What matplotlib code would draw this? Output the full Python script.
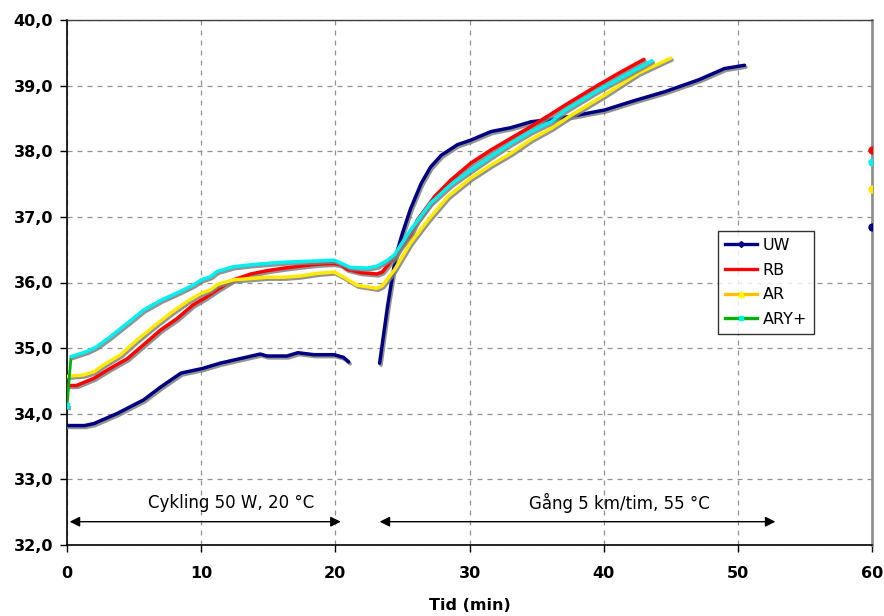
import numpy as np
import matplotlib
matplotlib.use("Agg")
import matplotlib.pyplot as plt
import matplotlib.patheffects as pe
from matplotlib.lines import Line2D
from matplotlib.ticker import FuncFormatter, MultipleLocator

plt.rcParams['font.family'] = ['DejaVu Sans']

# ---------------- data ----------------
t_uw1 = [0, 1.3, 2.0, 3.7, 5.7, 7.0, 8.5, 10.1, 11.4, 12.9, 14.4, 14.9, 16.4, 17.2, 18.4, 19.9, 20.6, 21.0]
v_uw1 = [33.82, 33.82, 33.85, 34.00, 34.21, 34.41, 34.62, 34.69, 34.77, 34.84, 34.91, 34.88, 34.88, 34.93, 34.90, 34.90, 34.86, 34.79]

t_uw2 = [23.3, 23.9, 24.5, 25.0, 25.6, 26.4, 27.1, 27.9, 29.1, 30.1, 31.6, 33.1, 34.6, 35.9, 37.8, 40.1, 42.1, 44.6, 47.1, 49.0, 50.5]
v_uw2 = [34.77, 35.65, 36.40, 36.75, 37.12, 37.51, 37.76, 37.94, 38.10, 38.17, 38.30, 38.36, 38.45, 38.48, 38.54, 38.63, 38.76, 38.91, 39.09, 39.26, 39.31]

t_rb = [0, 0.7, 2.0, 3.2, 4.5, 5.7, 7.0, 8.2, 9.4, 10.4, 11.2, 12.4, 13.7, 14.9, 16.2, 17.4, 18.7, 19.9,
        20.4, 20.9, 21.9, 23.1, 23.5, 24.4, 24.9, 25.6, 26.1, 27.4, 28.6, 30.1, 31.6, 33.1, 34.6, 36.1,
        37.1, 39.6, 41.3, 43.0]
v_rb = [34.43, 34.43, 34.54, 34.69, 34.84, 35.05, 35.28, 35.45, 35.66, 35.78, 35.89, 36.04, 36.13, 36.18,
        36.22, 36.25, 36.28, 36.29, 36.27, 36.20, 36.15, 36.13, 36.16, 36.39, 36.55, 36.72, 36.95, 37.31,
        37.56, 37.82, 38.02, 38.20, 38.38, 38.57, 38.70, 39.01, 39.21, 39.40]

t_ar = [0, 1.2, 2.0, 2.7, 4.0, 5.2, 6.45, 7.7, 8.95, 9.94, 10.7, 11.2, 12.4, 13.7, 14.9, 16.2, 17.4, 18.7,
        19.9, 20.65, 21.6, 23.1, 23.5, 24.4, 25.6, 26.9, 28.4, 30.1, 31.6, 33.1, 34.6, 36.1, 37.6, 40.1,
        42.6, 45.0]
v_ar = [34.57, 34.59, 34.64, 34.74, 34.90, 35.12, 35.33, 35.53, 35.71, 35.83, 35.89, 35.97, 36.04, 36.06,
        36.08, 36.08, 36.10, 36.14, 36.16, 36.08, 35.96, 35.91, 35.95, 36.19, 36.60, 36.95, 37.31, 37.59,
        37.79, 37.97, 38.18, 38.35, 38.55, 38.86, 39.19, 39.42]

t_ary = [0, 0.3, 1.5, 2.2, 3.2, 4.5, 5.7, 7.0, 8.2, 9.4, 10.0, 10.7, 11.2, 12.4, 13.7, 14.9, 16.2, 17.4,
         18.7, 19.9, 20.6, 21.1, 22.4, 23.1, 23.9, 24.4, 25.6, 27.1, 28.6, 30.1, 31.6, 33.1, 34.6, 36.1,
         37.1, 39.6, 42.1, 43.6]
v_ary = [34.12, 34.87, 34.95, 35.02, 35.17, 35.38, 35.58, 35.73, 35.84, 35.96, 36.04, 36.09, 36.17, 36.24,
         36.27, 36.29, 36.31, 36.32, 36.33, 36.34, 36.28, 36.23, 36.22, 36.25, 36.34, 36.42, 36.80, 37.21,
         37.49, 37.71, 37.92, 38.12, 38.30, 38.45, 38.62, 38.93, 39.21, 39.38]

# isolated points at t = 60
t_end = 60
end_uw, end_rb, end_ar, end_ary = 36.85, 38.02, 37.42, 37.83

labels = ['UW', 'RB', 'AR', 'ARY+']
phase_labels = ['Cykling 50 W, 20 °C', 'Gång 5 km/tim, 55 °C']
phase_spans = [(0.2, 20.4), (23.3, 52.8)]
phase_text_x = [12.2, 41.2]

# ---------------- figure ----------------
fig = plt.figure(figsize=(8.84, 6.16), dpi=100)
ax = fig.add_axes([67/884, 71/616, 805/884, 525/616])

shadow = [pe.SimpleLineShadow(offset=(1.0, -1.4), shadow_color='#808080', alpha=0.85), pe.Normal()]
lw = 2.5

c_uw = '#000080'
c_rb = '#FF0000'
c_ar = '#FFEA00'
c_ary = '#00F0F0'
c_ary_line = '#00B000'

ax.plot(t_uw1, v_uw1, color=c_uw, lw=lw, solid_capstyle='round', path_effects=shadow, zorder=3)
ax.plot(t_uw2, v_uw2, color=c_uw, lw=lw, solid_capstyle='round', path_effects=shadow, zorder=3)
ax.plot(t_rb, v_rb, color=c_rb, lw=lw, solid_capstyle='round', path_effects=shadow, zorder=3)
ax.plot(t_ar, v_ar, color=c_ar, lw=lw, solid_capstyle='round', path_effects=shadow, zorder=3)
ax.plot(t_ary[:2], v_ary[:2], color=c_ary_line, lw=2.0, zorder=3.5)
ax.plot(t_ary[1:], v_ary[1:], color=c_ary, lw=lw, solid_capstyle='round', path_effects=shadow, zorder=4)
ax.plot(t_ary[:1], v_ary[:1], 's', color=c_ary, ms=3.5, zorder=4,
        path_effects=[pe.SimplePatchShadow(offset=(1, -1.5), shadow_rgbFace='#808080', alpha=0.9), pe.Normal()])

for val, col in [(end_uw, c_uw), (end_rb, c_rb), (end_ar, c_ar), (end_ary, c_ary)]:
    ax.plot([t_end], [val], 'o', color=col, ms=5, zorder=5, clip_on=True)

# phase annotations
for lab, (a, b), tx in zip(phase_labels, phase_spans, phase_text_x):
    ax.annotate('', xy=(b, 32.355), xytext=(a, 32.355),
                arrowprops=dict(arrowstyle='<|-|>', color='black', lw=1.0,
                                mutation_scale=15, shrinkA=0, shrinkB=0))
    ax.text(tx, 32.635, lab, ha='center', va='center', fontsize=12)

# axes formatting
ax.set_xlim(0, 60)
ax.set_ylim(32, 40)
ax.xaxis.set_major_locator(MultipleLocator(10))
ax.yaxis.set_major_locator(MultipleLocator(1))
ax.yaxis.set_major_formatter(FuncFormatter(lambda v, p: f"{v:.1f}".replace('.', ',')))
ax.tick_params(axis='both', direction='out', length=5, width=1, labelsize=11.5)
for lbl in ax.get_xticklabels() + ax.get_yticklabels():
    lbl.set_fontweight('bold')
ax.tick_params(axis='x', pad=10)
ax.tick_params(axis='y', pad=5)

ax.grid(True, color='#909090', linestyle=(0, (4, 4)), linewidth=0.9)
ax.set_axisbelow(True)
for s in ['left', 'bottom']:
    ax.spines[s].set_color('black')
    ax.spines[s].set_linewidth(1.2)
ax.spines['top'].set_color('#404040')
ax.spines['top'].set_linewidth(1.0)
ax.spines['right'].set_color('#909090')
ax.spines['right'].set_linewidth(2.0)

ax.set_xlabel('Tid (min)', fontsize=11.5, fontweight='bold', labelpad=12)

handles = [
    Line2D([], [], color=c_uw, lw=2.4, marker='D', ms=3, mfc=c_uw, mec=c_uw),
    Line2D([], [], color=c_rb, lw=2.4),
    Line2D([], [], color='#FFC000', lw=2.4, marker='^', ms=4, mfc='#FFFF00', mec='#FFFF00'),
    Line2D([], [], color=c_ary_line, lw=2.4, marker='s', ms=3.5, mfc=c_ary, mec=c_ary),
]
leg = ax.legend(handles, labels, loc='lower left', bbox_to_anchor=(0.8087, 0.402),
                fontsize=11.5, frameon=True, fancybox=False, edgecolor='black',
                borderpad=0.45, labelspacing=0.6, handlelength=2.0, handletextpad=0.35,
                borderaxespad=0)
leg.get_frame().set_linewidth(1.0)

fig.savefig('out.png', dpi=100)
